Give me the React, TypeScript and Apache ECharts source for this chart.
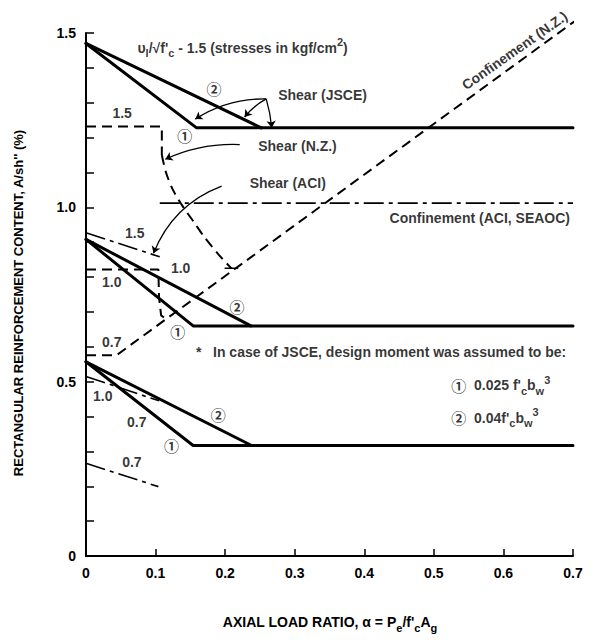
import React, { useEffect, useRef } from "react";
import * as echarts from "echarts";

const FONT = '"Liberation Sans", Arial, Helvetica, sans-serif';
const CIRC = '"Noto Sans CJK JP", "DejaVu Sans", sans-serif';

// ---- axis ----
const X_MIN = 0;
const X_MAX = 0.7;
const Y_MIN = 0;
const Y_MAX = 1.5;

// ---- Shear (JSCE), solid: ① = 0.025 f'c bw^3, ② = 0.04 f'c bw^3 ----
const jsce15One = [[0, 1.47], [0.159, 1.228], [0.7, 1.228]];
const jsce15Two = [[0, 1.47], [0.252, 1.228]];
const jsce10One = [[0, 0.908], [0.154, 0.66], [0.7, 0.66]];
const jsce10Two = [[0, 0.908], [0.237, 0.66]];
const jsce07One = [[0, 0.557], [0.154, 0.317], [0.7, 0.317]];
const jsce07Two = [[0, 0.557], [0.238, 0.317]];

// ---- Shear (N.Z.), dashed ----
const nz15Box = [[0, 1.232], [0.109, 1.232], [0.109, 1.15]];
const nz15Curve = [[0.109, 1.15], [0.115, 1.1], [0.125, 1.05], [0.14, 1.0], [0.155, 0.958], [0.17, 0.915], [0.19, 0.866], [0.209, 0.825]];
const nz15Cap = [[0.2, 0.825], [0.218, 0.825]];
const nz10 = [[0, 0.822], [0.104, 0.822], [0.105, 0.74], [0.108, 0.69], [0.116, 0.678]];

// ---- Confinement ----
const confNZ = [[0, 0.576], [0.044, 0.576], [0.71, 1.545]];
const confACI = [[0.106, 1.012], [0.7, 1.012]];

// ---- Shear (ACI), dash-dot ----
const aci15 = [[0, 0.927], [0.106, 0.858]];
const aci10 = [[0, 0.515], [0.105, 0.445]];
const aci07 = [[0, 0.266], [0.104, 0.199]];

// ---- arrows (data coordinates) ----
const arrows = [
  { from: [0.259, 1.311], to: [0.157, 1.253], curve: -0.15 },
  { from: [0.259, 1.311], to: [0.228, 1.259], curve: -0.1 },
  { from: [0.259, 1.311], to: [0.267, 1.228], curve: 0.05 },
  { from: [0.221, 1.18], to: [0.114, 1.138], curve: -0.12 },
  { from: [0.195, 1.061], to: [0.097, 0.868], curve: -0.22 },
];

// ---- annotations (data coordinates) ----
const notes = [
  { text: "{n|υ}{s|l}{n|/√f'}{s|c}{n| - 1.5 (stresses in kgf/cm}{p|2}{n|)}", x: 0.074, y: 1.457, align: "left" },
  { text: "1.5", x: 0.052, y: 1.27 },
  { text: "{c|②}", x: 0.184, y: 1.342 },
  { text: "{c|①}", x: 0.142, y: 1.207 },
  { text: "Shear (JSCE)", x: 0.34, y: 1.322 },
  { text: "Shear (N.Z.)", x: 0.304, y: 1.176 },
  { text: "Shear (ACI)", x: 0.29, y: 1.07 },
  { text: "Confinement (ACI, SEAOC)", x: 0.566, y: 0.97 },
  { text: "Confinement (N.Z.)", x: 0.616, y: 1.45, rotate: 35 },
  { text: "1.5", x: 0.07, y: 0.926 },
  { text: "1.0", x: 0.136, y: 0.826 },
  { text: "1.0", x: 0.037, y: 0.786 },
  { text: "{c|②}", x: 0.217, y: 0.717 },
  { text: "{c|①}", x: 0.132, y: 0.645 },
  { text: "0.7", x: 0.037, y: 0.614 },
  { text: "*   In case of JSCE, design moment was assumed to be:", x: 0.158, y: 0.585, align: "left" },
  { text: "{c|①}{n|  0.025 f'}{s|c}{n|b}{s|w}{p|3}", x: 0.525, y: 0.49, align: "left" },
  { text: "{c|②}{n|  0.04f'}{s|c}{n|b}{s|w}{p|3}", x: 0.525, y: 0.396, align: "left" },
  { text: "1.0", x: 0.024, y: 0.459 },
  { text: "0.7", x: 0.073, y: 0.384 },
  { text: "{c|②}", x: 0.19, y: 0.407 },
  { text: "{c|①}", x: 0.123, y: 0.318 },
  { text: "0.7", x: 0.066, y: 0.27 },
];

const Y_TITLE = "RECTANGULAR REINFORCEMENT CONTENT, A/sh'' (%)";
const X_TITLE = "{n|AXIAL LOAD RATIO, α = P}{s|e}{n|/f'}{s|c}{n|A}{s|g}";

const rich = {
  n: { fontFamily: FONT, fontWeight: "bold", fontSize: 14, color: "#000", lineHeight: 22 },
  s: { fontFamily: FONT, fontWeight: "bold", fontSize: 11, color: "#000", lineHeight: 12, verticalAlign: "bottom" },
  p: { fontFamily: FONT, fontWeight: "bold", fontSize: 11, color: "#000", lineHeight: 12, verticalAlign: "top" },
  c: { fontFamily: CIRC, fontSize: 15, color: "#000", lineHeight: 22 },
};

function solid(data: number[][], width = 3) {
  return { type: "line", data, showSymbol: false, symbol: "none", silent: true, lineStyle: { color: "#000", width, type: "solid", cap: "round", join: "round" } };
}
function dashed(data: number[][], extra: any = {}) {
  return { type: "line", data, showSymbol: false, symbol: "none", silent: true, lineStyle: { color: "#000", width: 2, type: [10, 6] }, ...extra };
}
function dashDot(data: number[][]) {
  return { type: "line", data, showSymbol: false, symbol: "none", silent: true, lineStyle: { color: "#000", width: 1.6, type: [20, 5, 4, 5] } };
}

export default function App() {
  const ref = useRef<HTMLDivElement>(null);
  useEffect(() => {
    if (!ref.current) return;
    const chart = echarts.init(ref.current, undefined, { renderer: "svg" });
    const option: any = {
      animation: false,
      backgroundColor: "#fff",
      grid: { left: 86, right: 23, top: 33, bottom: 85, containLabel: false },
      xAxis: {
        type: "value", min: X_MIN, max: X_MAX, interval: 0.1,
        axisLine: { show: true, lineStyle: { color: "#000", width: 2 } },
        axisTick: { show: true, inside: true, length: 7, lineStyle: { color: "#000", width: 1.5 } },
        splitLine: { show: false },
        axisLabel: {
          color: "#000", fontFamily: FONT, fontWeight: "bold", fontSize: 14, margin: 10,
          formatter: (v: number) => (Math.abs(v) < 1e-9 ? "0" : v.toFixed(1)),
        },
      },
      yAxis: {
        type: "value", min: Y_MIN, max: Y_MAX, interval: 0.1,
        axisLine: { show: true, lineStyle: { color: "#000", width: 2 } },
        axisTick: { show: true, inside: true, length: 8, lineStyle: { color: "#000", width: 1.5 } },
        splitLine: { show: false },
        axisLabel: {
          color: "#000", fontFamily: FONT, fontWeight: "bold", fontSize: 14, margin: 10,
          formatter: (v: number) => {
            const k = Math.round(v * 10);
            if (k % 5 !== 0) return "";
            return k === 0 ? "0" : (k / 10).toFixed(1);
          },
        },
      },
      series: [
        solid(jsce15One), solid(jsce15Two),
        solid(jsce10One), solid(jsce10Two),
        solid(jsce07One), solid(jsce07Two),
        dashed(nz15Box),
        dashed(nz15Curve, { smooth: 0.3 }),
        solid(nz15Cap, 1.5),
        dashed(nz10),
        dashed(confNZ, { clip: false }),
        dashDot(confACI),
        dashDot(aci15), dashDot(aci10), dashDot(aci07),
        {
          type: "lines", coordinateSystem: "cartesian2d", silent: true,
          symbol: ["none", "arrow"], symbolSize: 7,
          lineStyle: { color: "#000", width: 1.3, opacity: 1 },
          data: arrows.map((a) => ({ coords: [a.from, a.to], lineStyle: { curveness: a.curve } })),
        },
        {
          type: "scatter", symbolSize: 0, silent: true, clip: false,
          data: notes.map((n) => ({
            value: [n.x, n.y],
            name: n.text,
            label: { align: n.align || "center", rotate: n.rotate || 0 },
          })),
          label: {
            show: true, position: [0, 0], verticalAlign: "middle",
            fontFamily: FONT, fontWeight: "bold", fontSize: 14, color: "#000",
            formatter: (p: any) => p.name,
            rich,
          },
        },
      ],
      graphic: [
        {
          type: "text", x: 18, y: 303, rotation: Math.PI / 2,
          style: { text: Y_TITLE, font: `bold 13px ${FONT}`, fill: "#000", align: "center", verticalAlign: "middle" },
        },
        {
          type: "text", x: 330, y: 622,
          style: { text: X_TITLE, rich, align: "center", verticalAlign: "middle" },
        },
      ],
    };
    chart.setOption(option);
    return () => chart.dispose();
  }, []);
  return <div ref={ref} style={{ position: "fixed", left: 0, top: 0, width: 596, height: 641, background: "#fff" }} />;
}
